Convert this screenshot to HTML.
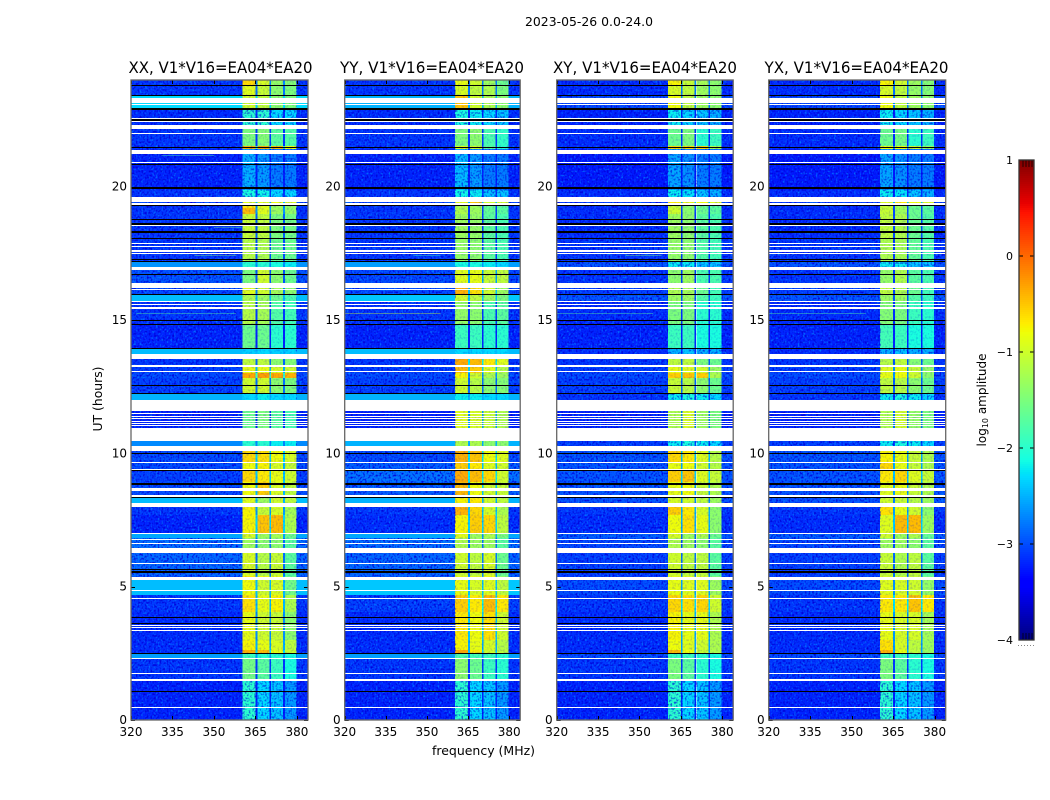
<!DOCTYPE html>
<html lang="en">
<head>
<meta charset="utf-8">
<title>2023-05-26 0.0-24.0</title>
<style>
html,body{margin:0;padding:0;background:#fff;}
svg{display:block;}
text{font-family:"DejaVu Sans","Liberation Sans",sans-serif;fill:#000;}
</style>
</head>
<body>
<svg id="figure" xmlns="http://www.w3.org/2000/svg" width="1050" height="800" viewBox="0 0 1050 800">
  <defs>
    <filter id="speck-light" x="0" y="0" width="100%" height="100%" color-interpolation-filters="sRGB">
      <feTurbulence type="fractalNoise" baseFrequency="0.55 0.48" numOctaves="1" seed="4"/>
      <feColorMatrix type="matrix" values="0 0 0 0 0  0 0 0 0 0.5  0 0 0 0 1  3.4 0 0 0 -1.8"/>
    </filter>
    <filter id="speck-dark" x="0" y="0" width="100%" height="100%" color-interpolation-filters="sRGB">
      <feTurbulence type="fractalNoise" baseFrequency="0.55 0.48" numOctaves="1" seed="9"/>
      <feColorMatrix type="matrix" values="0 0 0 0 0  0 0 0 0 0  0 0 0 0 0.85  0 3.4 0 0 -1.6"/>
    </filter>
  </defs>
  <text x="589" y="26" font-size="12" text-anchor="middle" textLength="128" lengthAdjust="spacingAndGlyphs">2023-05-26 0.0-24.0</text>
  <text x="483.5" y="755" font-size="12" text-anchor="middle" textLength="103" lengthAdjust="spacingAndGlyphs">frequency (MHz)</text>
  <text transform="translate(102,399) rotate(-90)" font-size="12" text-anchor="middle" textLength="65" lengthAdjust="spacingAndGlyphs">UT (hours)</text>
  <text transform="translate(986,400) rotate(-90)" font-size="12" text-anchor="middle">log<tspan font-size="8" dy="2">10</tspan><tspan dy="-2"> amplitude</tspan></text>
  <g id="panels"></g>
  <g id="colorbar"></g>
</svg>
<script>
// ---- axis tick labels ----
const freqTicks = [320, 335, 350, 365, 380];
const hourTicks = [0, 5, 10, 15, 20];
const colorbarTicks = [1, 0, -1, -2, -3, -4];
const panelTitles = ["XX, V1*V16=EA04*EA20", "YY, V1*V16=EA04*EA20", "XY, V1*V16=EA04*EA20", "YX, V1*V16=EA04*EA20"];

// ---- frequency channel groups (MHz) and which level column each one reads ----
const channelEdgesMHz = [320, 360.3, 365, 365.7, 370, 370.6, 375, 375.6, 379.8, 384];
const channelLevelColumn = [0, 1, -1, 2, -1, 3, -1, 4, 0];

// ---- top edge (UT hours) of each time row ----
const rowTopUT = [24, 23.78, 23.4, 22.91, 22.31, 21.53, 21.41, 19.88, 19.61, 19.39, 19.2, 18.98, 18.08, 17.18, 16.95, 16.39, 15.94, 15.71, 14.81, 13.95, 13.73, 13.31, 13.01, 12.83, 12.23, 12, 10.46, 10.28, 9.68, 9.38, 8.93, 8.36, 8.14, 7.69, 7.01, 6.83, 6.45, 5.4, 5.25, 4.69, 4.05, 3, 2.63, 2.51, 2.33, 1.5];

// ---- log10 amplitude per row: [background, band1, band2, band3, band4] ----
const levelsXX = [[-3.1,-0.6,-0.95,-1.35,-1.45],[-3.1,-0.9,-1.05,-1.4,-1.5],[-2.3,-1,-1.1,-1.4,-1.5],[-3.15,-2,-2,-2.3,-2.3],[-3.1,-1.5,-1.45,-1.7,-1.75],[-3.1,-0.4,-0.35,-0.45,-0.8],[-3.2,-2.5,-2.6,-2.75,-2.75],[-3.1,-2.1,-2.15,-2.3,-2.3],[-3,-0.9,-0.9,-0.8,-0.9],[-3.1,-0.7,-0.9,-1.3,-1.35],[-3.1,-0.45,-0.9,-1.3,-1.35],[-3.1,-1.05,-1.1,-1.5,-1.55],[-3.1,-1.15,-1.2,-1.6,-1.6],[-2.65,-2,-2,-2.1,-2.2],[-2.95,-1.5,-1,-1.4,-1.6],[-3,-0.9,-1,-1.25,-1.4],[-2.45,-1.2,-1.3,-1.6,-1.8],[-3.1,-1.15,-1.25,-1.75,-1.85],[-3.2,-1.6,-1.6,-2,-2],[-2.45,-2.35,-2.3,-2.35,-2.35],[-3.1,-1.1,-1.1,-1.4,-1.45],[-3.05,-0.85,-0.85,-0.95,-1],[-3,-0.35,-0.3,-0.35,-0.4],[-3.05,-1,-1,-1.4,-1.5],[-2.5,-2.3,-2.2,-2.3,-2.3],[-3.2,-1.6,-1.5,-1.7,-1.8],[-2.7,-2,-2,-2.2,-2.2],[-3,-0.6,-0.65,-0.8,-0.95],[-3,-0.8,-0.75,-0.95,-1.05],[-3.05,-0.6,-0.7,-0.85,-1],[-3,-0.8,-0.55,-0.95,-1.1],[-2.45,-0.9,-1.3,-1,-1.1],[-3.1,-0.75,-1.05,-0.95,-1.25],[-3.2,-0.75,-0.5,-0.45,-1.2],[-2.55,-0.95,-1.3,-1.25,-1.6],[-2.8,-1.3,-1.4,-1.4,-1.7],[-2.85,-0.95,-1.15,-1.05,-1.7],[-2.95,-0.7,-0.8,-0.85,-1.6],[-2.45,-0.8,-1,-0.95,-1.55],[-3.1,-0.65,-0.85,-0.75,-1.2],[-3.15,-0.85,-1,-1.05,-1.4],[-3.15,-0.75,-0.85,-0.95,-1.1],[-3.15,-0.4,-0.45,-0.85,-1.05],[-2.6,-1.9,-2,-2,-2.1],[-3.1,-1.55,-1.7,-1.9,-2.1],[-3.2,-2,-2.3,-2.4,-2.6]];
const levelsYY = [[-3.1,-0.85,-1,-1.3,-1.6],[-3.1,-0.95,-1.1,-1.2,-1.5],[-2.5,-0.5,-1,-1.2,-1.4],[-3.15,-2.1,-2.2,-2.3,-2.4],[-3.1,-1.5,-1.4,-1.8,-1.95],[-3.1,-0.9,-1,-1.7,-2],[-3.2,-2.45,-2.6,-2.75,-2.75],[-3.1,-2.15,-2.2,-2.4,-2.4],[-3,-0.85,-0.5,-1,-1],[-3.1,-1.2,-1.3,-1.65,-1.7],[-3.1,-1.2,-1.3,-1.65,-1.7],[-3.1,-1.3,-1.35,-1.7,-1.8],[-3.1,-1.35,-1.4,-1.7,-1.8],[-2.6,-2.1,-2.1,-2.2,-2.3],[-3,-0.9,-0.85,-1.05,-1.1],[-3,-0.4,-0.65,-1,-1.3],[-2.4,-1,-1.1,-1.3,-1.5],[-3.1,-1.35,-1.4,-1.8,-1.7],[-3.2,-1.9,-1.9,-2,-2],[-2.45,-2.3,-2.3,-2.3,-2.3],[-3.1,-0.35,-0.45,-0.7,-0.9],[-3.05,-0.45,-0.55,-0.9,-1.15],[-3,-0.75,-1,-1.2,-1.3],[-3.05,-1,-1.15,-1.4,-1.45],[-2.5,-2.2,-2.2,-2.3,-2.3],[-3.2,-0.9,-0.95,-1.05,-1.2],[-2.5,-1.2,-1.2,-1.4,-1.4],[-3,-0.4,-0.5,-0.8,-0.9],[-2.9,-0.55,-0.7,-0.9,-1],[-2.8,-0.35,-0.45,-0.6,-1],[-2.9,-0.45,-0.8,-1,-1.05],[-2.5,-0.75,-0.7,-1,-1.1],[-3.1,-0.4,-0.6,-0.95,-1.2],[-3.15,-0.75,-0.55,-0.6,-1.1],[-2.55,-0.9,-1.3,-1.2,-1.5],[-2.8,-1.2,-1.3,-1.3,-1.7],[-2.85,-1,-1.1,-0.95,-1.6],[-2.9,-0.85,-0.9,-0.8,-1.4],[-2.4,-0.85,-0.95,-0.9,-1.1],[-3.05,-0.55,-0.7,-0.45,-0.7],[-3.15,-0.7,-0.8,-0.65,-1],[-3.15,-0.75,-0.85,-0.95,-1.15],[-3.15,-0.35,-0.7,-1,-1.1],[-2.6,-1.8,-1.85,-1.9,-2],[-3.1,-1.4,-1.6,-1.9,-2],[-3.2,-2,-2.3,-2.4,-2.6]];
const levelsXY = [[-3.15,-0.75,-1.05,-1.25,-1.4],[-3.15,-0.95,-1.1,-1.3,-1.4],[-3,-0.8,-1.1,-1.3,-1.4],[-3.2,-2.2,-2.3,-2.4,-2.5],[-3.15,-1.6,-1.5,-2,-1.9],[-3.15,-0.6,-0.6,-0.6,-1.2],[-3.25,-2.55,-2.65,-2.75,-2.75],[-3.15,-2.2,-2.25,-2.4,-2.5],[-3.05,-0.7,-0.8,-0.8,-0.9],[-3.15,-1.05,-1.4,-1.6,-1.7],[-3.15,-1,-1.4,-1.6,-1.7],[-3.15,-1.3,-1.4,-1.7,-1.8],[-3.1,-1.35,-1.4,-1.75,-1.85],[-2.95,-2.2,-2.2,-2.4,-2.4],[-3.1,-1.4,-1.3,-1.8,-1.8],[-3.05,-1.2,-1.25,-1.6,-1.85],[-2.95,-1.3,-1.3,-1.75,-1.9],[-3.15,-1.5,-1.5,-2,-2],[-3.2,-1.9,-1.9,-2.1,-2.1],[-3.15,-2.5,-2.4,-2.5,-2.5],[-3.1,-1.1,-1.1,-1.5,-1.6],[-3.05,-0.85,-0.9,-1,-1.3],[-3,-0.55,-0.5,-0.55,-1.2],[-3.05,-1.05,-1.15,-1.4,-1.6],[-3.1,-2.2,-2.1,-2.2,-2.3],[-3.2,-1.2,-0.95,-1.3,-1.5],[-3.05,-2.2,-2.1,-2.2,-2.3],[-2.95,-0.6,-0.7,-0.9,-1.15],[-2.95,-0.85,-0.8,-1,-1.15],[-2.95,-0.55,-0.5,-0.9,-1.05],[-2.95,-0.85,-0.8,-1.05,-1.2],[-2.95,-0.95,-1,-1.1,-1.3],[-3.1,-0.55,-0.7,-0.95,-1.4],[-3.15,-0.8,-0.65,-0.85,-1.4],[-2.9,-0.95,-1.3,-1.2,-1.6],[-3,-1.2,-1.3,-1.4,-1.7],[-3.05,-1,-1.1,-1.1,-1.7],[-3.05,-0.85,-0.9,-0.95,-1.5],[-3,-0.85,-0.9,-0.9,-1.3],[-3.1,-0.6,-0.65,-0.6,-1],[-3.15,-0.75,-0.85,-0.85,-1.2],[-3.15,-0.8,-0.9,-1,-1.2],[-3.15,-0.45,-0.8,-1.05,-1.2],[-3,-1.9,-1.9,-2,-2.1],[-3.1,-1.5,-1.7,-2,-2.1],[-3.2,-2,-2.3,-2.4,-2.6]];
const levelsYX = [[-3.15,-0.75,-1,-1.3,-1.45],[-3.15,-0.95,-1.1,-1.35,-1.45],[-3,-0.8,-1.1,-1.3,-1.4],[-3.2,-2.2,-2.3,-2.4,-2.5],[-3.15,-1.6,-1.55,-2,-1.9],[-3.15,-0.8,-0.8,-1,-1.3],[-3.25,-2.55,-2.65,-2.75,-2.75],[-3.15,-2.2,-2.25,-2.4,-2.5],[-3.05,-0.9,-0.7,-0.8,-0.9],[-3.15,-1.05,-1.3,-1.6,-1.7],[-3.15,-1.05,-1.3,-1.6,-1.7],[-3.15,-1.1,-1.2,-1.6,-1.75],[-3.1,-1.2,-1.25,-1.65,-1.8],[-2.95,-2.2,-2.2,-2.4,-2.4],[-3.1,-1.35,-1.2,-1.7,-1.8],[-3.05,-1.1,-1.2,-1.6,-1.85],[-2.95,-1.3,-1.3,-1.75,-1.9],[-3.15,-1.45,-1.5,-1.9,-2],[-3.2,-1.85,-1.9,-2.1,-2.1],[-3.15,-2.5,-2.4,-2.5,-2.5],[-3.1,-1.15,-1.1,-1.45,-1.6],[-3.05,-0.9,-0.85,-1.05,-1.35],[-3,-0.85,-0.8,-1,-1.4],[-3.05,-1.1,-1.15,-1.4,-1.6],[-3.1,-2.2,-2.1,-2.2,-2.3],[-3.2,-1.2,-1,-1.35,-1.5],[-3.05,-2.2,-2.1,-2.2,-2.3],[-2.95,-0.75,-0.85,-1.05,-1.2],[-2.95,-0.6,-0.85,-1.05,-1.2],[-2.95,-0.7,-0.6,-0.9,-1.05],[-2.95,-0.9,-0.85,-1.05,-1.2],[-2.95,-1,-1.05,-1.15,-1.3],[-3.1,-0.65,-0.85,-1,-1.4],[-3.15,-0.9,-0.45,-0.45,-1.3],[-2.9,-1,-1.3,-1.2,-1.65],[-3,-1.3,-1.3,-1.4,-1.7],[-3.05,-1.05,-1.2,-1.1,-1.7],[-3.05,-0.95,-1,-1.05,-1.55],[-3,-0.9,-0.95,-1,-1.35],[-3.1,-0.7,-0.7,-0.5,-0.7],[-3.15,-0.85,-0.95,-0.95,-1.25],[-3.15,-0.65,-0.95,-1.1,-1.3],[-3.15,-0.4,-0.85,-1.1,-1.3],[-3,-1.9,-1.9,-2,-2.1],[-3.1,-1.5,-1.7,-2,-2.1],[-3.2,-2,-2.3,-2.4,-2.6]];
const panelLevels = [levelsXX, levelsYY, levelsXY, levelsYX];

// ---- narrow interference streaks: [panel, UT hour, start MHz, end MHz, log10 amplitude] ----
const rfiStreaks = [[0,15.25,322,358,-1.7],[0,17.45,343,358,-1.5],[0,18.48,350,360,-1.6],[0,21.2,331,350,-1.8],[1,15.25,320,355,-1.0],[1,17.45,345,355,-1.9],[2,15.25,320,355,-1.7],[2,17.45,345,358,-1.5],[3,15.25,320,355,-1.7]];

// ---- flagged (blank) time ranges, [top UT, bottom UT] ----
const flaggedRanges = [[23.34,23.14],[23.1,23.05],[22.56,22.51],[22.46,22.43],[22.32,22.16],[22.02,21.98],[21.39,21.23],[20.91,20.87],[19.62,19.41],[19.37,19.33],[18.56,18.52],[17.89,17.85],[17.76,17.72],[17.63,17.56],[17.51,17.47],[16.99,16.88],[16.4,16.19],[16.17,16.13],[15.71,15.67],[15.6,15.56],[15.5,15.42],[13.74,13.54],[13.32,13.28],[13.26,13.22],[13.09,13.05],[12,11.6],[11.5,11.46],[11.41,11.37],[11.32,11.28],[11.23,11.19],[11.14,11.1],[11.05,11.01],[10.96,10.92],[10.91,10.46],[10.28,10.09],[9.69,9.65],[9.43,9.39],[8.7,8.59],[8.42,8.37],[8.15,7.99],[7.01,6.97],[6.8,6.74],[6.64,6.6],[6.44,6.26],[5.89,5.85],[5.37,5.25],[4.89,4.85],[4.58,4.54],[3.55,3.51],[3.48,3.44],[3.36,3.32],[2.33,2.29],[1.76,1.72],[1.54,1.48],[0.49,0.45]];

// ---- zero-amplitude (dropout) time ranges, [top UT, bottom UT] ----
const dropoutRanges = [[23.8,23.76],[23.44,23.4],[22.95,22.89],[22.52,22.48],[21.49,21.45],[20.86,20.8],[19.98,19.92],[19.3,19.26],[18.78,18.74],[18.62,18.58],[18.32,18.28],[18.07,18.03],[17.29,17.25],[17.23,17.19],[16.71,16.67],[15.96,15.92],[14.99,14.95],[14.84,14.8],[13.96,13.92],[12.55,12.51],[12.26,12.22],[10.02,9.98],[9.38,9.34],[8.87,8.83],[8.37,8.33],[5.65,5.61],[5.57,5.53],[3.87,3.83],[3.63,3.59],[2.52,2.48],[1.1,1.06]];

// ---- layout ----
const panelBoxes = [{l:131,w:177},{l:344.7,w:175.5},{l:556.7,w:176.5},{l:768.7,w:177}];
const titleCenters = [220.5, 432, 645, 856.5];
const plotTop = 80, plotBottom = 720;
const freqMin = 320, freqMax = 384, utMin = 0, utMax = 24;
const cbar = {l:1019, r:1034, t:160, b:640};
const cbarMin = -4, cbarMax = 1;

const SVGNS = "http://www.w3.org/2000/svg";
function make(tag, attrs, parent) {
  const el = document.createElementNS(SVGNS, tag);
  for (const k in attrs) el.setAttribute(k, attrs[k]);
  parent.appendChild(el);
  return el;
}
function interp(x, pts) {
  if (x <= pts[0][0]) return pts[0][1];
  for (let i = 1; i < pts.length; i++) {
    if (x <= pts[i][0]) {
      const a = pts[i - 1], b = pts[i];
      return a[1] + (b[1] - a[1]) * (x - a[0]) / (b[0] - a[0]);
    }
  }
  return pts[pts.length - 1][1];
}
function jet(t) {
  const r = interp(t, [[0,0],[0.35,0],[0.66,1],[0.89,1],[1,0.5]]);
  const g = interp(t, [[0,0],[0.125,0],[0.375,1],[0.64,1],[0.91,0],[1,0]]);
  const b = interp(t, [[0,0.5],[0.11,1],[0.34,1],[0.65,0],[1,0]]);
  return "rgb(" + Math.round(r * 255) + "," + Math.round(g * 255) + "," + Math.round(b * 255) + ")";
}
function colorOf(v) { return jet((v - cbarMin) / (cbarMax - cbarMin)); }
function yScale(h) { return plotBottom - (h - utMin) / (utMax - utMin) * (plotBottom - plotTop); }
function xScale(box, f) { return box.l + (f - freqMin) / (freqMax - freqMin) * box.w; }
function cbarY(v) { return cbar.b - (v - cbarMin) / (cbarMax - cbarMin) * (cbar.b - cbar.t); }
function mean(a) { return a.reduce(function (s, v) { return s + v; }, 0) / a.length; }

const panelsRoot = document.getElementById("panels");

panelBoxes.forEach(function (box, p) {
  const g = make("g", {}, panelsRoot);
  
  

  const title = make("text", {x: titleCenters[p], y: 73, "font-size": 16, "text-anchor": "middle", textLength: 184, lengthAdjust: "spacingAndGlyphs"}, g);
  title.textContent = panelTitles[p];
  
  

  const heat = make("g", {"shape-rendering": "crispEdges"}, g);
  
  

  const levels = panelLevels[p];
  const bandX0 = xScale(box, channelEdgesMHz[1]), bandW = xScale(box, channelEdgesMHz[8]) - bandX0;

  rowTopUT.forEach(function (top, r) {
    const bottom = r + 1 < rowTopUT.length ? rowTopUT[r + 1] : utMin;
    const row = levels[r];
    const y0 = Math.round(yScale(top)), y1 = Math.round(yScale(bottom));
    const gapLevel = Math.max(row[0], mean(row.slice(1)) - 1.6);
    channelLevelColumn.forEach(function (col, c) {
      const x0 = xScale(box, channelEdgesMHz[c]), x1 = xScale(box, channelEdgesMHz[c + 1]);
      const value = col < 0 ? gapLevel : row[col];
      const cell = make("rect", {x: x0.toFixed(2), y: y0, width: (x1 - x0).toFixed(2), height: y1 - y0, fill: colorOf(value)}, heat);
      
      
    });
  });

  // decorative receiver-noise speckle, confined to the quiet background channels
  [[channelEdgesMHz[0], channelEdgesMHz[1]], [channelEdgesMHz[8], channelEdgesMHz[9]]].forEach(function (span) {
    const x0 = xScale(box, span[0]), w = xScale(box, span[1]) - x0;
    ["speck-light", "speck-dark"].forEach(function (id) {
      const tex = make("rect", {x: x0, y: plotTop, width: w, height: plotBottom - plotTop, filter: "url(#" + id + ")"}, g);
      
      
    });
  });
  const bandTex = make("rect", {x: bandX0, y: plotTop, width: bandW, height: plotBottom - plotTop, filter: "url(#speck-dark)", opacity: 0.2}, g);
  
  

  rowTopUT.forEach(function (top, r) {
    const bottom = r + 1 < rowTopUT.length ? rowTopUT[r + 1] : utMin;
    const row = levels[r];
    const y0 = Math.round(yScale(top)), y1 = Math.round(yScale(bottom));
    // bright rows stay smooth in the background channels
    if (row[0] > -2.8) {
      [[channelEdgesMHz[0], channelEdgesMHz[1]], [channelEdgesMHz[8], channelEdgesMHz[9]]].forEach(function (span) {
        const x0 = xScale(box, span[0]), x1 = xScale(box, span[1]);
        const smooth = make("rect", {x: x0, y: y0, width: x1 - x0, height: y1 - y0, fill: colorOf(row[0]), "shape-rendering": "crispEdges"}, g);
        
        
      });
    }
    // faint rows show receiver speckle through the bands too
    if (mean(row.slice(1)) < -2.05 && row[0] <= -2.8) {
      const speck = make("rect", {x: bandX0, y: y0, width: bandW, height: y1 - y0, filter: "url(#speck-dark)", opacity: 0.6}, g);
      
      
    }
  });

  const marks = make("g", {"shape-rendering": "crispEdges"}, g);
  
  

  rfiStreaks.filter(function (s) { return s[0] === p; }).forEach(function (s) {
    const x0 = xScale(box, s[2]), x1 = xScale(box, s[3]);
    const streak = make("rect", {x: x0, y: Math.round(yScale(s[1])), width: x1 - x0, height: 1, fill: colorOf(s[4]), opacity: 0.4}, marks);
    
    
  });

  flaggedRanges.forEach(function (f) {
    const y0 = Math.round(yScale(f[0])), y1 = Math.round(yScale(f[1]));
    const band = make("rect", {x: box.l, y: y0, width: box.w, height: Math.max(1, y1 - y0), fill: "#fff"}, marks);
    
    
  });

  dropoutRanges.forEach(function (f) {
    const y0 = Math.round(yScale(f[0])), y1 = Math.round(yScale(f[1]));
    const line = make("rect", {x: box.l, y: y0, width: box.w, height: Math.max(1, y1 - y0), fill: "#000"}, marks);
    
    
  });

  freqTicks.forEach(function (f) {
    const x = Math.round(xScale(box, f)) + 0.5;
    const tickB = make("line", {x1: x, x2: x, y1: plotBottom, y2: plotBottom - 4, stroke: "#000", "stroke-width": 1}, g);
    
    
    const tickT = make("line", {x1: x, x2: x, y1: plotTop, y2: plotTop + 4, stroke: "#000", "stroke-width": 1}, g);
    
    
    const label = make("text", {x: xScale(box, f), y: 736, "font-size": 12, "text-anchor": "middle"}, g);
    label.textContent = f;
    
    
  });

  hourTicks.forEach(function (h) {
    const y = Math.round(yScale(h)) + 0.5;
    const tickL = make("line", {x1: box.l, x2: box.l + 4, y1: y, y2: y, stroke: "#000", "stroke-width": 1}, g);
    
    
    const tickR = make("line", {x1: box.l + box.w, x2: box.l + box.w - 4, y1: y, y2: y, stroke: "#000", "stroke-width": 1}, g);
    
    
    const label = make("text", {x: box.l - 4, y: yScale(h) + 4, "font-size": 12, "text-anchor": "end"}, g);
    label.textContent = h;
    
    
  });

  const frame = make("rect", {x: box.l, y: plotTop, width: box.w, height: plotBottom - plotTop, fill: "none", stroke: "#666", "stroke-width": 1.3}, g);
  
  
});

// ---- colorbar ----
const cbRoot = document.getElementById("colorbar");
const cbSlices = make("g", {"shape-rendering": "crispEdges"}, cbRoot);


for (let py = cbar.t; py < cbar.b; py += 2) {
  const v = cbarMax - (py + 1 - cbar.t) / (cbar.b - cbar.t) * (cbarMax - cbarMin);
  const slice = make("rect", {x: cbar.l, y: py, width: cbar.r - cbar.l, height: 2, fill: colorOf(v)}, cbSlices);
  
  
}
[1023, 1026, 1029, 1032].forEach(function (x) {
  [[cbar.t, cbar.t + 7], [cbar.b, cbar.b - 7]].forEach(function (yy) {
    const mt = make("line", {x1: x, x2: x, y1: yy[0], y2: yy[1], stroke: "#000", "stroke-width": 1, opacity: 0.7}, cbRoot);
    
    
  });
});
colorbarTicks.forEach(function (v) {
  const y = cbarY(v);
  const tl = make("line", {x1: cbar.l, x2: cbar.l + 4, y1: y, y2: y, stroke: "#000", "stroke-width": 1}, cbRoot);
  
  
  const tr = make("line", {x1: cbar.r, x2: cbar.r - 4, y1: y, y2: y, stroke: "#000", "stroke-width": 1}, cbRoot);
  
  
  const label = make("text", {x: cbar.l - 6, y: y + 4, "font-size": 11, "text-anchor": "end"}, cbRoot);
  label.textContent = v < 0 ? "\u2212" + Math.abs(v) : String(v);
  
  
});
const cbFrame = make("rect", {x: cbar.l, y: cbar.t, width: cbar.r - cbar.l, height: cbar.b - cbar.t, fill: "none", stroke: "#333", "stroke-width": 1.3}, cbRoot);


const cbDots = make("line", {x1: cbar.l - 1, x2: cbar.r + 1, y1: 645.5, y2: 645.5, stroke: "#888", "stroke-width": 1, "stroke-dasharray": "1 2"}, cbRoot);


</script>
</body>
</html>
